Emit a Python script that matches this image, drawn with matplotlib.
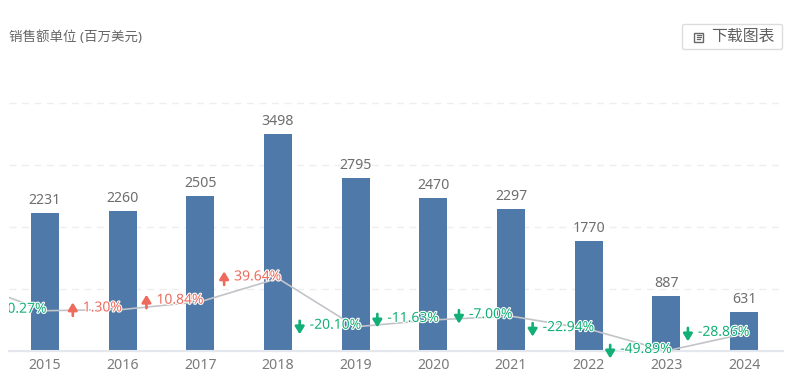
import matplotlib
matplotlib.use("Agg")
import matplotlib.pyplot as plt
import matplotlib.patheffects as pe
from matplotlib.patches import FancyArrowPatch, FancyBboxPatch, Rectangle
from matplotlib.transforms import Bbox

plt.rcParams['font.family'] = ['Noto Sans', 'Noto Sans CJK SC', 'DejaVu Sans']

years = ['2015', '2016', '2017', '2018', '2019', '2020', '2021', '2022', '2023', '2024']
sales = [2231, 2260, 2505, 3498, 2795, 2470, 2297, 1770, 887, 631]
growth = [-0.27, 1.30, 10.84, 39.64, -20.10, -11.63, -7.00, -22.94, -49.89, -28.86]
prior_growth = 35.0  # segment entering the plot from the left, cut off by the frame
title = '销售额单位 (百万美元)'
button = '下载图表'

W, H = 788, 383
fig = plt.figure(figsize=(W / 100, H / 100), dpi=100, facecolor='white')
L, R, T, B = 9, 783, 103, 351
ax = fig.add_axes([L / W, 1 - B / H, (R - L) / W, (B - T) / H])
ax.set_facecolor('none')
step = 77.67
x = list(range(len(years)))
ax.set_xlim(-(45 - L) / step, (R - 45) / step)
ax.set_ylim(0, 4000)
ax.set_yticks([0, 1000, 2000, 3000, 4000])
ax.tick_params(axis='y', length=0, labelleft=False)
ax.tick_params(axis='x', length=0, pad=5, labelsize=10.2, labelcolor='#7a7a7a')
ax.set_xticks(x)
ax.set_xticklabels(years)
ax.grid(axis='y', color='#eeeeee', lw=1, ls=(0, (5, 4)), clip_on=False)
ax.set_axisbelow(True)
for s in ['top', 'left', 'right']:
    ax.spines[s].set_visible(False)
ax.spines['bottom'].set_color('#e4e7ee')
ax.spines['bottom'].set_linewidth(1.5)

ax.bar(x, sales, width=28 / step, color='#4f79a8', zorder=2)
for xi, v in zip(x, sales):
    ax.annotate(str(v), (xi, v), xytext=(0, 3.6), textcoords='offset points',
                ha='center', va='bottom', fontsize=10.2, color='#6e6e6e')

ax2 = ax.twinx()
ax2.set_facecolor('none')
ax2.set_ylim((310.5 - B) / 0.81, (310.5 - T) / 0.81)
ax2.axis('off')
ax2.plot([-1] + x, [prior_growth] + growth, color='#c2c4c8', lw=1.2, zorder=3)

renderer = fig.canvas.get_renderer()
clip = Bbox([[L, 0], [R, H]])
halo = [pe.withStroke(linewidth=1.6, foreground='white')]
k = 0.72
for xi, g in zip(x, growth):
    col = '#ee6a5d' if g > 0 else '#12b076'
    t = ax2.annotate(f'{g:.2f}%', (xi, g), xytext=(-20.5 * k, 1.5 * k), textcoords='offset points',
                     ha='center', va='center', fontsize=10, color=col,
                     path_effects=halo, zorder=5)
    t.set_clip_on(True)
    t.set_clip_box(clip)
    w = t.get_window_extent(renderer).width
    px, py = ax2.transData.transform((xi, g))
    ox = px - 20.5 - w / 2 - 10
    if g > 0:
        tail, head = (ox, py - 6.5), (ox, py + 7)
    else:
        tail, head = (ox, py + 6), (ox, py - 7.5)
    if ox > L:
        fig.add_artist(FancyArrowPatch(tail, head, transform=None,
                                       arrowstyle='-|>,head_length=4.4,head_width=2.7',
                                       shrinkA=0, shrinkB=0, mutation_scale=1, lw=1.9,
                                       color=col, zorder=6))

ov = fig.add_axes([0, 0, 1, 1], facecolor='none')
ov.set_xlim(0, W)
ov.set_ylim(H, 0)
ov.axis('off')
ov.text(9, 37, title, fontsize=9.7, color='#666666', ha='left', va='center')
ov.add_patch(FancyBboxPatch((682.5, 24.5), 100, 25, boxstyle='round,pad=0,rounding_size=2',
                            fc='white', ec='#dcdcdc', lw=1))
ov.add_patch(Rectangle((694.5, 32.5), 9, 9.5, fc='white', ec='#666666', lw=1))
ov.plot([697, 701], [35, 35], color='#666666', lw=0.9)
ov.plot([697, 701], [37.2, 37.2], color='#666666', lw=0.9)
ov.plot([697, 700], [39.4, 39.4], color='#666666', lw=0.9)
ov.text(743, 36.5, button, fontsize=11.4, color='#5f5f5f', ha='center', va='center')

fig.savefig('out.png', dpi=100, facecolor='white')
